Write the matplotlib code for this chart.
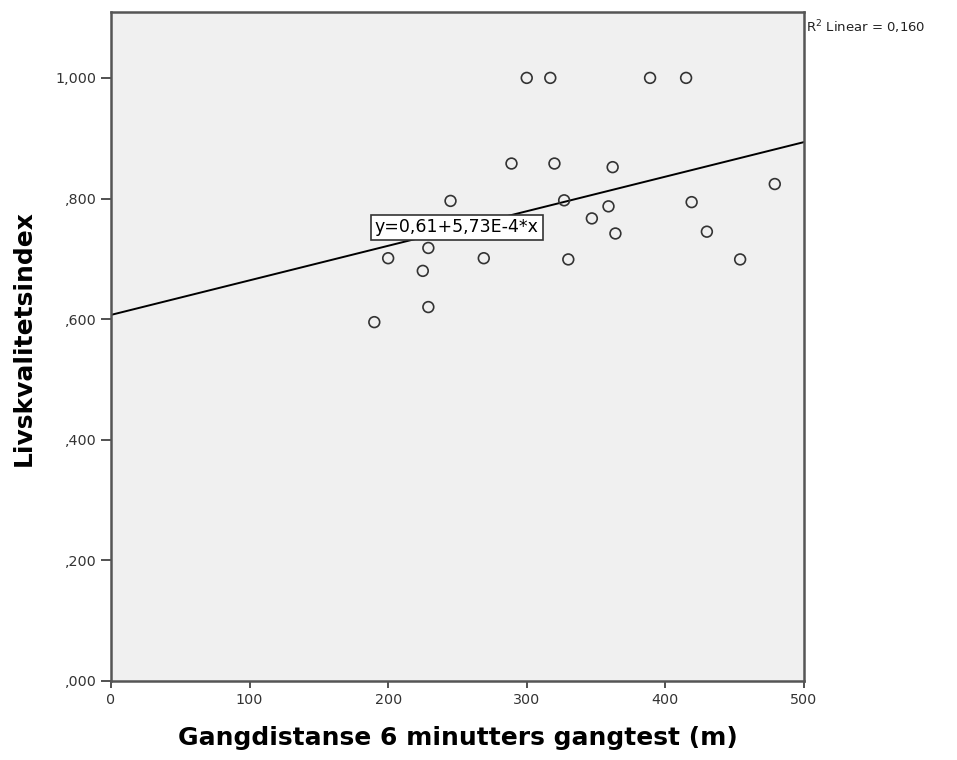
import matplotlib
matplotlib.use("Agg")
import matplotlib.pyplot as plt
import numpy as np

# Data
walk_distance = [300, 317, 389, 415, 289, 320, 362, 245, 327, 359, 419, 479,
                 347, 364, 430, 229, 200, 269, 330, 454, 225, 229, 190]
quality_index = [1.000, 1.000, 1.000, 1.000, 0.858, 0.858, 0.852, 0.796, 0.797,
                 0.787, 0.794, 0.824, 0.767, 0.742, 0.745, 0.718, 0.701, 0.701,
                 0.699, 0.699, 0.680, 0.620, 0.595]
fit_intercept = 0.607
fit_slope = 5.73e-4
fit_label = "y=0,61+5,73E-4*x"
r2_label = "R$^2$ Linear = 0,160"
x_ticks = [0, 100, 200, 300, 400, 500]
x_tick_labels = ["0", "100", "200", "300", "400", "500"]
y_ticks = [0.0, 0.2, 0.4, 0.6, 0.8, 1.0]
y_tick_labels = [",000", ",200", ",400", ",600", ",800", "1,000"]
x_title = "Gangdistanse 6 minutters gangtest (m)"
y_title = "Livskvalitetsindex"

fig = plt.figure(figsize=(9.57, 7.6), dpi=100)
ax = fig.add_axes([0.116, 0.104, 0.724, 0.880])
ax.set_facecolor("#f0f0f0")

ax.set_xlim(0, 500)
ax.set_ylim(0, 1.109)

xs = np.array([0, 500])
ax.plot(xs, fit_intercept + fit_slope * xs, color="black", lw=1.4, zorder=2)

ax.scatter(walk_distance, quality_index, s=60, facecolors="none",
           edgecolors="#333333", linewidths=1.2, zorder=3)

ax.text(249.5, 0.752, fit_label, ha="center", va="center", fontsize=12.5,
        color="black", zorder=4,
        bbox=dict(boxstyle="square,pad=0.22", fc="white", ec="#333333", lw=1.2))

ax.set_xticks(x_ticks)
ax.set_xticklabels(x_tick_labels)
ax.set_yticks(y_ticks)
ax.set_yticklabels(y_tick_labels)
ax.tick_params(axis="both", direction="out", length=5, width=1.2,
               colors="#333333", labelsize=10.3, labelcolor="#333333")
ax.tick_params(axis="y", length=7)

for sp in ax.spines.values():
    sp.set_color("#555555")
    sp.set_linewidth(1.8)

ax.set_xlabel(x_title, fontsize=18, fontweight="bold", labelpad=14)
ax.set_ylabel(y_title, fontsize=18, fontweight="bold")
ax.yaxis.set_label_coords(-0.108, 0.513)

fig.text(0.842, 0.964, r2_label, fontsize=9.5, color="#222222",
         ha="left", va="center")

fig.savefig("out.png", dpi=100)
